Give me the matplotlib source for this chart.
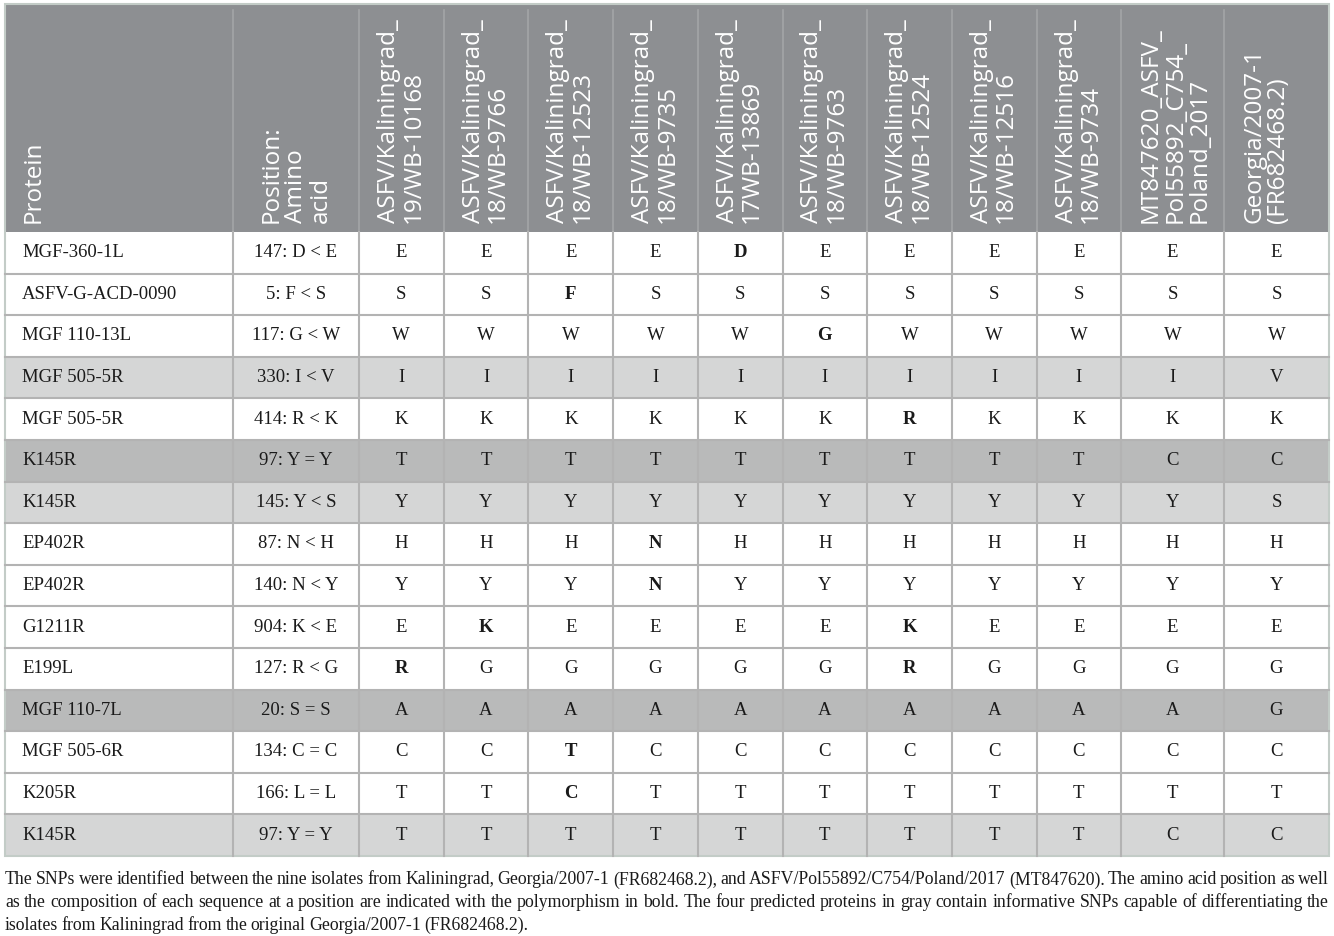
import matplotlib.pyplot as plt
from matplotlib.patches import Rectangle

# Table data
proteins = ['MGF-360-1L', 'ASFV-G-ACD-0090', 'MGF 110-13L', 'MGF 505-5R', 'MGF 505-5R',
            'K145R', 'K145R', 'EP402R', 'EP402R', 'G1211R', 'E199L', 'MGF 110-7L',
            'MGF 505-6R', 'K205R', 'K145R']
positions = ['147: D < E', '5: F < S', '117: G < W', '330: I < V', '414: R < K',
             '97: Y = Y', '145: Y < S', '87: N < H', '140: N < Y', '904: K < E',
             '127: R < G', '20: S = S', '134: C = C', '166: L = L', '97: Y = Y']
isolates = ['ASFV/Kaliningrad_\n19/WB-10168', 'ASFV/Kaliningrad_\n18/WB-9766',
            'ASFV/Kaliningrad_\n18/WB-12523', 'ASFV/Kaliningrad_\n18/WB-9735',
            'ASFV/Kaliningrad_\n17WB-13869', 'ASFV/Kaliningrad_\n18/WB-9763',
            'ASFV/Kaliningrad_\n18/WB-12524', 'ASFV/Kaliningrad_\n18/WB-12516',
            'ASFV/Kaliningrad_\n18/WB-9734', 'MT847620_ASFV_\nPol55892_C754_\nPoland_2017',
            'Georgia/2007-1\n(FR682468.2)']
residues = ['EEEEDEEEEEE', 'SSFSSSSSSSS', 'WWWWWGWWWWW', 'IIIIIIIIIIV', 'KKKKKKRKKKK',
            'TTTTTTTTTCC', 'YYYYYYYYYYS', 'HHHNHHHHHHH', 'YYYNYYYYYYY', 'EKEEEEKEEEE',
            'RGGGGGRGGGG', 'AAAAAAAAAAG', 'CCTCCCCCCCC', 'TTCTTTTTTTT', 'TTTTTTTTTCC']
bold_cells = [(0, 4), (1, 2), (2, 5), (4, 6), (7, 3), (8, 3), (9, 1), (9, 6),
              (10, 0), (10, 6), (12, 2), (13, 2)]
light_rows = [3, 6, 14]
dark_rows = [5, 11]
caption = ('The SNPs were identified between the nine isolates from Kaliningrad, Georgia/2007-1 '
           '(FR682468.2), and ASFV/Pol55892/C754/Poland/2017 (MT847620). The amino acid position as well\n'
           'as the composition of each sequence at a position are indicated with the polymorphism in bold. '
           'The four predicted proteins in gray contain informative SNPs capable of differentiating the\n'
           'isolates from Kaliningrad from the original Georgia/2007-1 (FR682468.2).')

# layout (pixels)
col_edges = [5, 233, 359] + [359 + 84.7 * (i + 1) for i in range(8)] + [1121, 1224, 1329]
head_pad = [17, 27] + [18] * 11
top, head_bot, row_h = 4, 232, 41.6
header_col = '#8d8f92'
grid_col = '#b3b3b3'
serif = 'Liberation Serif'

fig = plt.figure(figsize=(13.34, 9.36), dpi=100)
ax = fig.add_axes([0, 0, 1, 1])
ax.set_xlim(0, 1334)
ax.set_ylim(936, 0)
ax.axis('off')

# header
ax.add_patch(Rectangle((col_edges[0], top), col_edges[-1] - col_edges[0], head_bot - top,
                       facecolor=header_col, edgecolor='none'))
headers = ['Protein', 'Position:\nAmino\nacid'] + isolates
for j, h in enumerate(headers):
    ax.text(col_edges[j] + head_pad[j], head_bot - 9, h, rotation=90, ha='left', va='bottom',
            multialignment='left', color='white', fontsize=17.5, family='Open Sans',
            linespacing=1.02)
    if j > 0:
        ax.plot([col_edges[j]] * 2, [top + 6, head_bot], color='#a3a5a7', lw=1.2)

# body rows
for i in range(len(proteins)):
    y0 = head_bot + i * row_h
    fc = 'white'
    if i in light_rows:
        fc = '#d5d6d6'
    elif i in dark_rows:
        fc = '#b9baba'
    ax.add_patch(Rectangle((col_edges[0], y0), col_edges[-1] - col_edges[0], row_h,
                           facecolor=fc, edgecolor='none'))
    yc = y0 + row_h / 2
    ax.text(col_edges[0] + 17, yc, proteins[i], ha='left', va='center',
            fontsize=13.5, family=serif, color='#1a1a1a')
    ax.text((col_edges[1] + col_edges[2]) / 2, yc, positions[i], ha='center', va='center',
            fontsize=13.5, family=serif, color='#1a1a1a')
    for k, r in enumerate(residues[i]):
        xc = (col_edges[k + 2] + col_edges[k + 3]) / 2
        ax.text(xc, yc, r, ha='center', va='center', fontsize=13.5,
                family=serif, color='#1a1a1a',
                fontweight='bold' if (i, k) in bold_cells else 'normal')

bottom = head_bot + len(proteins) * row_h
# grid lines
for i in range(1, len(proteins)):
    y = head_bot + i * row_h
    ax.plot([col_edges[0], col_edges[-1]], [y, y], color=grid_col, lw=1.5)
for x in col_edges[1:-1]:
    ax.plot([x, x], [head_bot, bottom], color=grid_col, lw=1.5)
ax.add_patch(Rectangle((col_edges[0], top), col_edges[-1] - col_edges[0], bottom - top,
                       facecolor='none', edgecolor='#c3ccc7', lw=1.5))

# caption, justified
fig.canvas.draw()
renderer = fig.canvas.get_renderer()
lines = caption.split('\n')
for li, line in enumerate(lines):
    y = bottom + 24 + li * 22.5
    words = line.split(' ')
    texts = [ax.text(0, y, w, ha='left', va='center', fontsize=12.8,
                     family=serif, color='#1a1a1a') for w in words]
    widths = [t.get_window_extent(renderer).width for t in texts]
    if li < len(lines) - 1:
        gap = (col_edges[-1] - col_edges[0] - sum(widths)) / (len(words) - 1)
    else:
        gap = 3.4
    x = col_edges[0]
    for t, w in zip(texts, widths):
        t.set_x(x)
        x += w + gap

fig.savefig('out.png', dpi=100)
